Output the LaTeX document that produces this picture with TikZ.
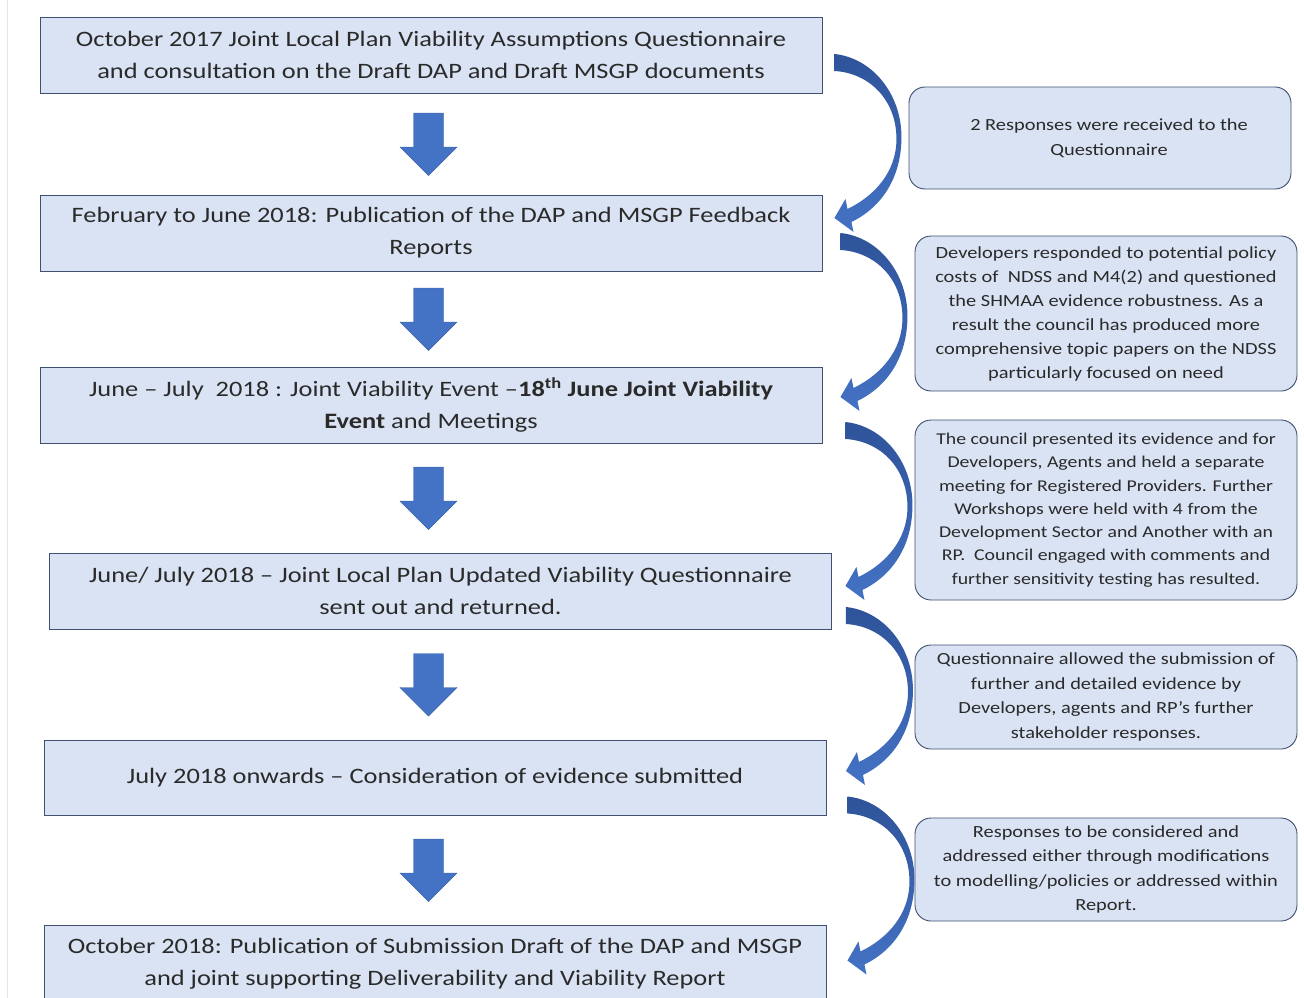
\documentclass[tikz,border=0pt]{standalone}
\usepackage{fontspec}
\setmainfont{Carlito}[FakeStretch=1.2]
\usetikzlibrary{calc}
\definecolor{boxfill}{HTML}{DAE3F3}
\definecolor{boxline}{HTML}{3F5070}
\definecolor{arrowblue}{HTML}{4472C4}
\definecolor{arrowdark}{HTML}{2E5399}
\definecolor{txt}{HTML}{2A2A2A}
\begin{document}
\begin{tikzpicture}[x=1pt,y=-1pt,
  mainbox/.style={draw=boxline, line width=0.9pt, fill=boxfill, minimum width=782pt,
    minimum height=76pt, align=center, text=txt, inner sep=0pt,
    font=\fontsize{22}{32}\selectfont},
  notebox/.style={draw=boxline, line width=0.9pt, fill=boxfill, rounded corners=16pt,
    minimum width=382pt, align=center, text=txt, inner sep=0pt,
    font=\fontsize{17}{24.5}\selectfont},
  blockarrow/.style={fill=arrowblue, draw=arrowblue!85!black, line width=0.4pt},
  curvearrow/.pic={
    \shade[top color=arrowdark, bottom color=arrowblue]
      (0,0) .. controls (38,4) and (67,40) .. (67,83)
      .. controls (67,125) and (46,154) .. (17,168)
      -- (19,178) -- (0,164) -- (11,145) -- (13,155)
      .. controls (40,142) and (62,118) .. (62,85)
      .. controls (62,46) and (35,19) .. (0,17) -- cycle;
  },
  downarrow/.pic={
    \path[blockarrow] (-15,-31) -- (15,-31) -- (15,3) -- (28.5,3) -- (0,31.5)
      -- (-28.5,3) -- (-15,3) -- cycle;
  }]
\useasboundingbox (0,0) rectangle (1304,998);
\draw[gray!20, line width=0.8pt] (7,0) -- (7,998);

% main boxes
\node[mainbox] (b1) at (431,55) {\raisebox{-2pt}{}October 2017 Joint Local Plan Viability Assumptions Questionnaire\\and consultation on the Draft DAP and Draft MSGP documents};
\node[mainbox] (b2) at (431,233) {February to June 2018: Publication of the DAP and MSGP Feedback\\Reports};
\node[mainbox] (b3) at (431,405) {June -- July\ \ 2018 : Joint Viability Event --\textbf{18\textsuperscript{th} June Joint Viability}\\\textbf{Event} and Meetings};
\node[mainbox] (b4) at (440.5,591) {June/ July 2018 -- Joint Local Plan Updated Viability Questionnaire\\sent out and returned.};
\node[mainbox, minimum height=75pt] (b5) at (435,777.5) {July 2018 onwards -- Consideration of evidence submitted};
\node[mainbox, minimum height=78pt] (b6) at (435,964) {October 2018: Publication of Submission Draft of the DAP and MSGP\\and joint supporting Deliverability and Viability Report};

% note boxes
\node[notebox, minimum height=102pt] (r1) at (1100,138) {\hspace*{18pt}2 Responses were received to the\\\hspace*{18pt}Questionnaire};
\node[notebox, minimum height=155pt, font=\fontsize{17}{24}\selectfont] (r2) at (1106,313.5) {Developers responded to potential policy\\costs of\ \ NDSS and M4(2) and questioned\\the SHMAA evidence robustness. As a\\result the council has produced more\\comprehensive topic papers on the NDSS\\particularly focused on need};
\node[notebox, minimum height=180pt, font=\fontsize{16.5}{23.3}\selectfont] (r3) at (1106,510) {The council presented its evidence and for\\Developers, Agents and held a separate\\meeting for Registered Providers. Further\\Workshops were held with 4 from the\\Development Sector and Another with an\\RP.\ \ Council engaged with comments and\\further sensitivity testing has resulted.};
\node[notebox, minimum height=104pt] (r4) at (1106,697) {Questionnaire allowed the submission of\\further and detailed evidence by\\Developers, agents and RP’s further\\stakeholder responses.};
\node[notebox, minimum height=103pt] (r5) at (1106,869.5) {Responses to be considered and\\addressed either through modifications\\to modelling/policies or addressed within\\Report.};

% down block arrows between main boxes
\coordinate (ax) at (428.5,0);
\coordinate (m1) at ($(b1.south)!0.5!(b2.north)$);
\coordinate (m2) at ($(b2.south)!0.5!(b3.north)$);
\coordinate (m3) at ($(b3.south)!0.5!(b4.north)$);
\coordinate (m4) at ($(b4.south)!0.5!(b5.north)$);
\coordinate (m5) at ($(b5.south)!0.5!(b6.north)$);
\pic at (m1 -| ax) {downarrow};
\pic at (m2 -| ax) {downarrow};
\pic at (m3 -| ax) {downarrow};
\pic at (m4 -| ax) {downarrow};
\pic at (m5 -| ax) {downarrow};

% curved arrows from each box to the next
\coordinate (c1) at ($(b1.east)+(12,-1)$);
\coordinate (c2) at ($(b2.east)+(18,0)$);
\coordinate (c3) at ($(b3.east)+(23,17)$);
\coordinate (c4) at ($(b4.east)+(14,16)$);
\coordinate (c5) at ($(b5.east)+(21,19)$);
\pic at (c1) {curvearrow};
\pic at (c2) {curvearrow};
\pic at (c3) {curvearrow};
\pic at (c4) {curvearrow};
\pic at (c5) {curvearrow};
\end{tikzpicture}
\end{document}
